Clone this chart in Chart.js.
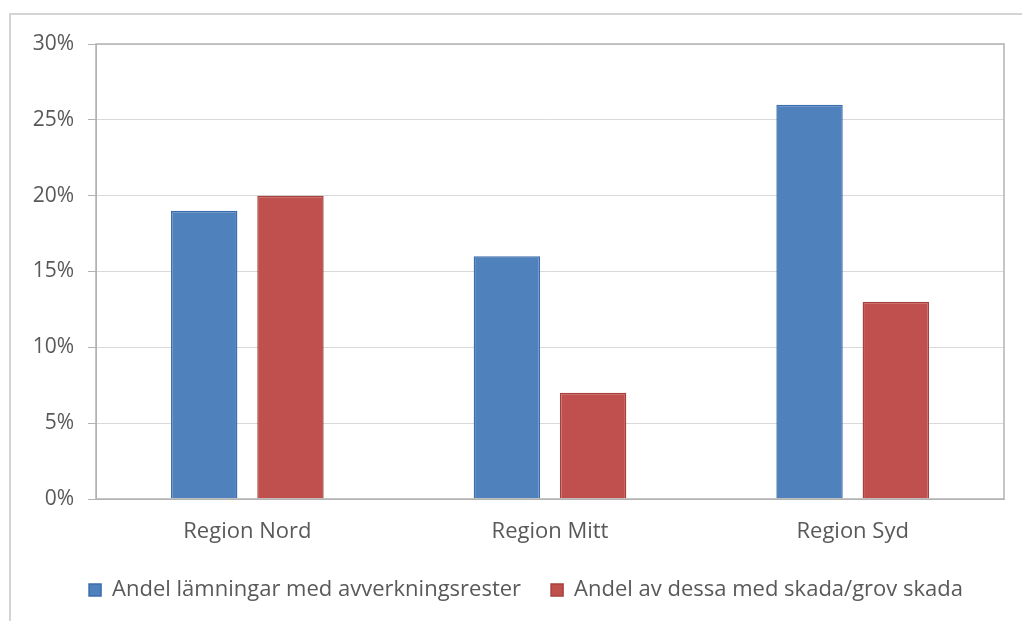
<!DOCTYPE html>
<html>
<head>
<meta charset="utf-8">
<script src="https://cdn.jsdelivr.net/npm/chart.js@4"></script>
<style>
  html, body { margin: 0; padding: 0; background: #fff; }
  #wrap { width: 1022px; height: 621px; position: relative; }
</style>
</head>
<body>
<div id="wrap"><canvas id="chart" width="1022" height="621"></canvas></div>
<script>
const regions = ['Region Nord', 'Region Mitt', 'Region Syd'];
const residueShare = [19, 16, 26];
const damageShare = [20, 7, 13];
const yTicks = [0, 5, 10, 15, 20, 25, 30];

const textColor = '#595959';
const fontFamily = '"Open Sans", sans-serif';

// outer frame (top + left edge) and plot area box
const framePlugin = {
    id: 'frame',
    afterUpdate(chart) {
        // legend sits a bit right of centre in the original
        chart.legend.left += 24;
        chart.legend.right += 24;
    },
    beforeDraw(chart) {
        const ctx = chart.ctx;
        ctx.save();
        ctx.strokeStyle = '#d4d4d4';
        ctx.lineWidth = 2;
        ctx.beginPath();
        ctx.moveTo(10, 621);
        ctx.lineTo(10, 14);
        ctx.lineTo(1022, 14);
        ctx.stroke();
        ctx.restore();
    },
    afterDatasetsDraw(chart) {
        const a = chart.chartArea;
        const ctx = chart.ctx;
        ctx.save();
        ctx.strokeStyle = '#b3b3b3';
        ctx.lineWidth = 1.5;
        ctx.strokeRect(a.left, a.top, a.right - a.left, a.bottom - a.top);
        ctx.restore();
    }
};

const ctx = document.getElementById('chart').getContext('2d');
new Chart(ctx, {
    type: 'bar',
    data: {
        labels: regions,
        datasets: [
            {
                label: 'Andel lämningar med avverkningsrester',
                data: residueShare,
                backgroundColor: '#4F81BD',
                borderColor: '#3C6EAD',
                borderWidth: 1.5,
                categoryPercentage: 0.57,
                barPercentage: 0.77
            },
            {
                label: 'Andel av dessa med skada/grov skada',
                data: damageShare,
                backgroundColor: '#C0504D',
                borderColor: '#A8403D',
                borderWidth: 1.5,
                categoryPercentage: 0.57,
                barPercentage: 0.77
            }
        ]
    },
    options: {
        responsive: false,
        animation: false,
        layout: { padding: { left: 0, right: 18, top: 44, bottom: 10 } },
        plugins: {
            legend: {
                position: 'bottom',
                labels: {
                    color: textColor,
                    font: { family: fontFamily, size: 22 },
                    boxWidth: 12,
                    boxHeight: 12,
                    padding: 30
                }
            },
            tooltip: { enabled: false }
        },
        scales: {
            x: {
                grid: { display: false, drawTicks: false },
                border: { color: '#b3b3b3' },
                ticks: {
                    color: textColor,
                    font: { family: fontFamily, size: 22 },
                    padding: 20
                },
                afterFit(scale) { scale.height = 50; }
            },
            y: {
                min: 0,
                max: 30,
                afterBuildTicks(scale) { scale.ticks = yTicks.map(v => ({ value: v })); },
                grid: { color: '#d9d9d9', tickLength: 8, tickColor: '#b3b3b3' },
                border: { color: '#b3b3b3' },
                ticks: {
                    color: textColor,
                    font: { family: fontFamily, size: 21 },
                    padding: 14,
                    callback: v => v + '%'
                },
                afterFit(scale) { scale.width = 96; }
            }
        }
    },
    plugins: [framePlugin]
});
</script>
</body>
</html>
